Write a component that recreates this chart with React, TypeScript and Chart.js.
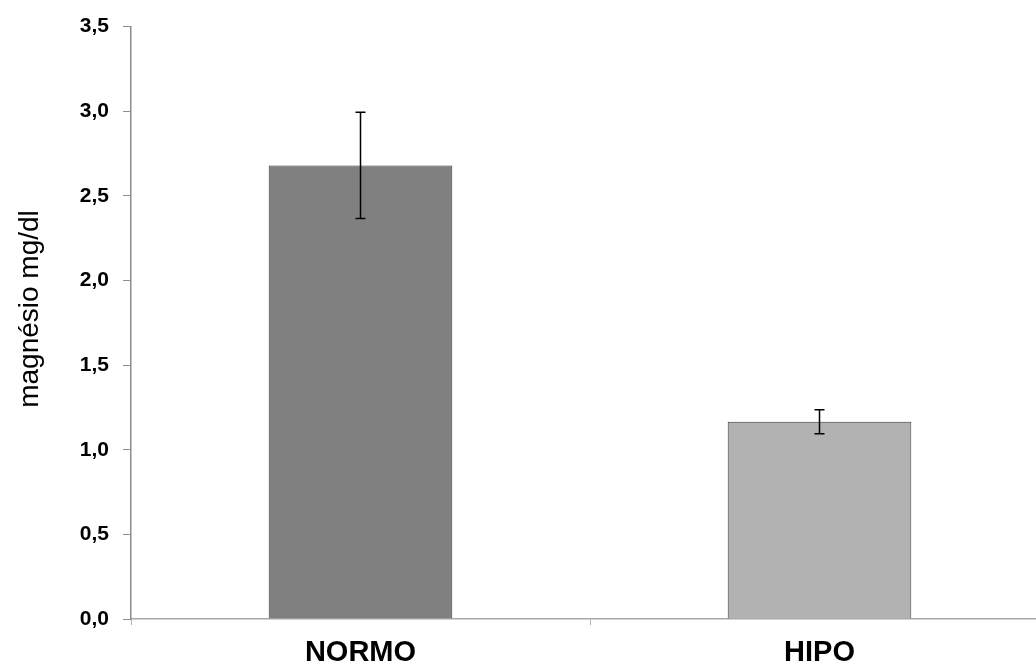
import React, { useEffect, useRef } from "react";
import { Chart, registerables } from "chart.js";

Chart.register(...registerables);

const categories = ["NORMO", "HIPO"];
const means = [2.68, 1.165];
const errors = [0.314, 0.071];
const barColors = ["#808080", "#b2b2b2"];
const yTickLabels = ["0,0", "0,5", "1,0", "1,5", "2,0", "2,5", "3,0", "3,5"];
const yTitle = "magnésio mg/dl";

const errorBarPlugin = {
  id: "errorBars",
  afterDatasetsDraw(chart: any) {
    const meta = chart.getDatasetMeta(0);
    const y = chart.scales.y;
    const ctx = chart.ctx;
    ctx.save();
    ctx.strokeStyle = "#000";
    ctx.lineWidth = 1.5;
    meta.data.forEach((bar: any, i: number) => {
      const x = bar.x;
      const top = y.getPixelForValue(means[i] + errors[i]);
      const bot = y.getPixelForValue(means[i] - errors[i]);
      ctx.beginPath();
      ctx.moveTo(x, top);
      ctx.lineTo(x, bot);
      ctx.moveTo(x - 5, top);
      ctx.lineTo(x + 5, top);
      ctx.moveTo(x - 5, bot);
      ctx.lineTo(x + 5, bot);
      ctx.stroke();
    });
    ctx.restore();
  },
};

const yTitlePlugin = {
  id: "yTitle",
  afterDraw(chart: any) {
    const ctx = chart.ctx;
    ctx.save();
    ctx.translate(30, 309);
    ctx.rotate(-Math.PI / 2);
    ctx.font = "28px 'Liberation Sans', Arial, sans-serif";
    ctx.fillStyle = "#000";
    ctx.textAlign = "center";
    ctx.textBaseline = "middle";
    ctx.fillText(yTitle, 0, 0);
    ctx.restore();
  },
};

export default function App() {
  const ref = useRef<HTMLCanvasElement>(null);
  useEffect(() => {
    if (!ref.current) return;
    const chart = new Chart(ref.current, {
      type: "bar",
      data: {
        labels: categories,
        datasets: [
          {
            data: means,
            backgroundColor: barColors,
            borderColor: "#3a3a3a",
            borderWidth: 1,
            barPercentage: 0.4,
            categoryPercentage: 1,
          },
        ],
      },
      options: {
        responsive: false,
        animation: false,
        layout: { padding: { top: 26, right: 0, bottom: 0, left: 0 } },
        plugins: { legend: { display: false }, tooltip: { enabled: false } },
        scales: {
          x: {
            offset: true,
            grid: {
              offset: true,
              drawOnChartArea: false,
              drawTicks: true,
              tickLength: 6,
              color: "#b0b0b0",
            },
            border: { color: "#a8a8a8", width: 1.5 },
            ticks: {
              color: "#000",
              padding: 11,
              font: { family: "'Liberation Sans', Arial, sans-serif", size: 29, weight: "bold" },
            },
            afterFit(scale: any) {
              scale.height = 44;
            },
          },
          y: {
            min: 0,
            max: 3.5,
            grid: {
              drawOnChartArea: false,
              drawTicks: true,
              tickLength: 8,
              color: "#8c8c8c",
            },
            border: { color: "#8c8c8c", width: 1.5 },
            ticks: {
              stepSize: 0.5,
              color: "#000",
              padding: 14,
              font: { family: "'Liberation Sans', Arial, sans-serif", size: 21, weight: "bold" },
              callback: (_v: any, i: number) => yTickLabels[i],
            },
            afterFit(scale: any) {
              scale.width = 131;
            },
          },
        },
      },
      plugins: [errorBarPlugin, yTitlePlugin],
    });
    return () => chart.destroy();
  }, []);

  return (
    <div
      style={{
        position: "fixed",
        left: 0,
        top: 0,
        width: 1036,
        height: 663,
        overflow: "hidden",
        background: "#fff",
      }}
    >
      <canvas ref={ref} width={1049} height={663} style={{ width: 1049, height: 663, display: "block" }} />
    </div>
  );
}
